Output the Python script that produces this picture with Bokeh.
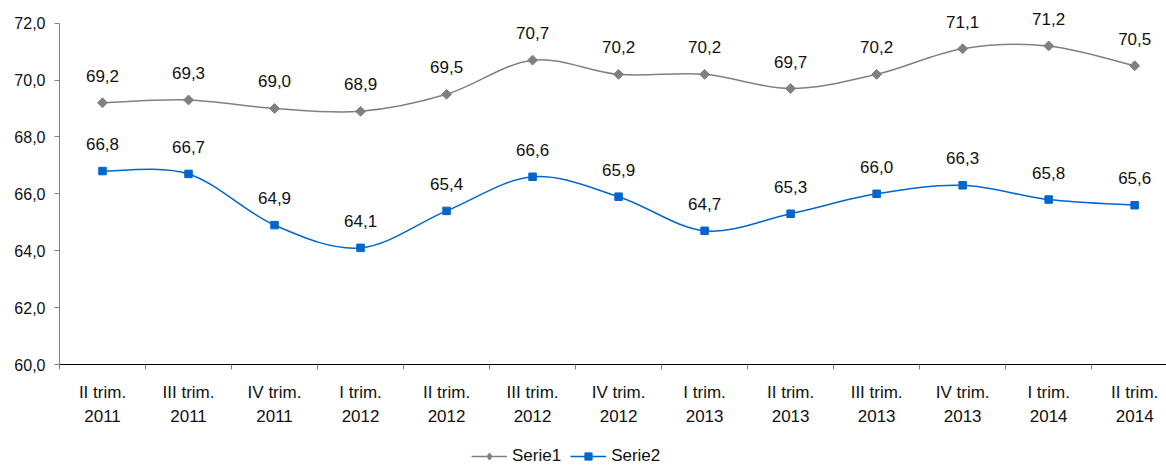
import numpy as np
from bokeh.plotting import figure
from bokeh.layouts import column
from bokeh.models import (ColumnDataSource, FixedTicker, CustomJSTickFormatter, Range1d,
                          LabelSet, Legend, LegendItem)
from bokeh.core.properties import value
from bokeh.embed import file_html
from bokeh.resources import INLINE

quarters = ["II trim.", "III trim.", "IV trim.", "I trim.", "II trim.", "III trim.", "IV trim.",
            "I trim.", "II trim.", "III trim.", "IV trim.", "I trim.", "II trim."]
years = ["2011", "2011", "2011", "2012", "2012", "2012", "2012",
         "2013", "2013", "2013", "2013", "2014", "2014"]
serie1 = [69.2, 69.3, 69.0, 68.9, 69.5, 70.7, 70.2, 70.2, 69.7, 70.2, 71.1, 71.2, 70.5]
serie2 = [66.8, 66.7, 64.9, 64.1, 65.4, 66.6, 65.9, 64.7, 65.3, 66.0, 66.3, 65.8, 65.6]
y_ticks = [60, 62, 64, 66, 68, 70, 72]

FONT = "Liberation Sans"
C1 = "#808080"
C2 = "#0066CC"
TXT = "#111111"

xs = list(range(len(quarters)))

p = figure(width=1166, height=446, output_backend="svg", toolbar_location=None,
           x_range=Range1d(-0.5, 12.37), y_range=Range1d(60, 72.48),
           min_border_left=59, min_border_right=0, min_border_top=9, min_border_bottom=82)
p.outline_line_color = None
p.xgrid.visible = False
p.ygrid.visible = False
p.background_fill_color = "white"
p.border_fill_color = "white"


def smooth_segments(x, y):
    x = np.asarray(x, float)
    y = np.asarray(y, float)
    n = len(x)
    xp = np.concatenate([[x[0]], x, [x[-1]]])
    yp = np.concatenate([[y[0]], y, [y[-1]]])
    d = dict(x0=[], y0=[], x1=[], y1=[], cx0=[], cy0=[], cx1=[], cy1=[])
    for i in range(n - 1):
        a, b, c, e = i, i + 1, i + 2, i + 3
        d["x0"].append(xp[b]); d["y0"].append(yp[b])
        d["x1"].append(xp[c]); d["y1"].append(yp[c])
        d["cx0"].append(xp[b] + (xp[c] - xp[a]) / 6); d["cy0"].append(yp[b] + (yp[c] - yp[a]) / 6)
        d["cx1"].append(xp[c] - (xp[e] - xp[b]) / 6); d["cy1"].append(yp[c] - (yp[e] - yp[b]) / 6)
    return d


for vals, col in ((serie1, C1), (serie2, C2)):
    p.bezier(source=ColumnDataSource(smooth_segments(xs, vals)),
             x0="x0", y0="y0", x1="x1", y1="y1", cx0="cx0", cy0="cy0", cx1="cx1", cy1="cy1",
             line_color=col, line_width=1.5)

src1 = ColumnDataSource(dict(x=xs, y=serie1, lab=[f"{v:.1f}".replace(".", ",") for v in serie1]))
src2 = ColumnDataSource(dict(x=xs, y=serie2, lab=[f"{v:.1f}".replace(".", ",") for v in serie2]))

p.scatter("x", "y", source=src1, marker="square", angle=np.pi / 4, size=7,
          fill_color=C1, line_color=C1)
p.scatter("x", "y", source=src2, marker="square", size=7.5,
          fill_color=C2, line_color=C2)

for src in (src1, src2):
    p.add_layout(LabelSet(x="x", y="y", text="lab", source=src, text_align="center",
                          text_baseline="alphabetic", y_offset=21, text_font=value(FONT),
                          text_font_size=value("17px"), text_color=TXT))

# x axis
xa = p.xaxis[0]
xa.ticker = FixedTicker(ticks=xs, minor_ticks=[i - 0.5 for i in range(len(xs) + 1)])
xa.major_label_overrides = {i: f"{q}\n{yv}" for i, (q, yv) in enumerate(zip(quarters, years))}
xa.major_tick_line_color = None
xa.major_tick_out = 5
xa.major_tick_in = 0
xa.minor_tick_line_color = "#808080"
xa.minor_tick_out = 5
xa.minor_tick_in = 0
xa.axis_line_color = "black"
xa.axis_line_width = 1
xa.major_label_standoff = 13
xa.major_label_text_font = FONT
xa.major_label_text_font_size = "17px"
xa.major_label_text_color = TXT
xa.major_label_text_line_height = 1.3

# y axis
ya = p.yaxis[0]
ya.ticker = FixedTicker(ticks=y_ticks)
ya.bounds = (60, 72)
ya.formatter = CustomJSTickFormatter(code="return tick.toFixed(1).replace('.', ',');")
ya.axis_line_color = "#808080"
ya.major_tick_line_color = "#808080"
ya.major_tick_out = 5
ya.major_tick_in = 0
ya.minor_tick_line_color = None
ya.major_label_standoff = 9
ya.major_label_text_font = FONT
ya.major_label_text_font_size = "16px"
ya.major_label_text_color = TXT

# legend strip below the chart
lg = figure(width=1166, height=20, output_backend="svg", toolbar_location=None,
            x_range=Range1d(0, 1), y_range=Range1d(0, 1),
            min_border_left=0, min_border_right=0, min_border_top=0, min_border_bottom=0)
lg.axis.visible = False
lg.grid.visible = False
lg.outline_line_color = None
lg.border_fill_color = "white"
ll1 = lg.line(x=[-5, -4], y=[-5, -4], line_color=C1, line_width=1.5)
lm1 = lg.scatter(x=[-5], y=[-5], marker="diamond", size=11,
                 fill_color=C1, line_color=C1)
ll2 = lg.line(x=[-5, -4], y=[-5, -4], line_color=C2, line_width=1.5)
lm2 = lg.scatter(x=[-5], y=[-5], marker="square", size=7.5, fill_color=C2, line_color=C2)

legend = Legend(items=[LegendItem(label="Serie1", renderers=[ll1, lm1]),
                       LegendItem(label="Serie2", renderers=[ll2, lm2])],
                location=(412, 0), orientation="horizontal",
                label_text_font=FONT, label_text_font_size="17px", label_text_color=TXT,
                glyph_width=36, glyph_height=18, label_height=18, label_standoff=5,
                spacing=9, padding=1, margin=0, border_line_color=None,
                background_fill_alpha=0)
lg.add_layout(legend, "center")

layout = column(p, lg, spacing=0)
open("out.html", "w").write(file_html(layout, INLINE))
